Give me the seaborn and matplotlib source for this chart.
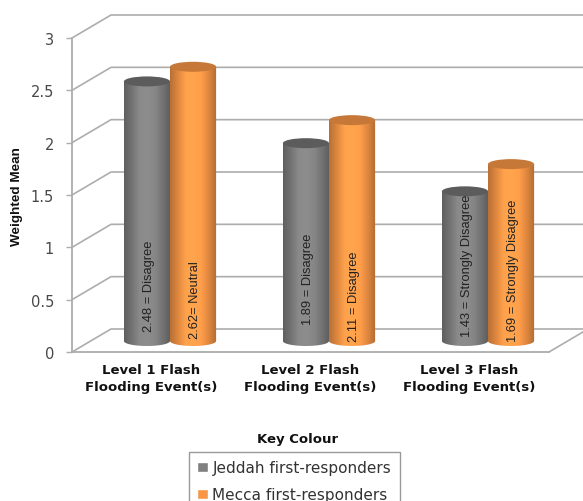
import matplotlib

matplotlib.use("Agg")
import matplotlib.pyplot as plt
import numpy as np
import pandas as pd
import seaborn as sns
from matplotlib.colors import LinearSegmentedColormap, to_rgb
from matplotlib.patches import Ellipse, PathPatch
from matplotlib.path import Path

levels = ["Level 1 Flash\nFlooding Event(s)", "Level 2 Flash\nFlooding Event(s)", "Level 3 Flash\nFlooding Event(s)"]
groups = ["Jeddah first-responders", "Mecca first-responders"]
jeddah = [2.48, 1.89, 1.43]
mecca = [2.62, 2.11, 1.69]
jeddah_labels = ["2.48 = Disagree", "1.89 = Disagree", "1.43 = Strongly Disagree"]
mecca_labels = ["2.62= Neutral", "2.11 = Disagree", "1.69 = Strongly Disagree"]
y_ticks = [0, 0.5, 1, 1.5, 2, 2.5, 3]
y_tick_labels = ["0", "0.5", "1", "1.5", "2", "2.5", "3"]

W, H = 583, 502
LEFT, RIGHT, TOP, FLOOR = 72, 549, 39, 353  # front plane of the fake 3d box, px
DEPTH_X, DEPTH_Y = 39, 23
PX_PER_UNIT = (FLOOR - TOP) / 3
GRID = "#adadad"
NARROW = ["Liberation Sans", "DejaVu Sans"]

sns.set_theme(style="white")
plt.rcParams["font.family"] = ["DejaVu Sans"]


def box(left, top, right, bottom):
    return [left / W, 1 - bottom / H, (right - left) / W, (bottom - top) / H]


fig = plt.figure(figsize=(W / 100, H / 100), dpi=100)

# walls, ticks and category labels
ax = fig.add_axes(box(LEFT, TOP, RIGHT, FLOOR))
ax.set_xlim(-0.5, 2.5)
ax.set_ylim(0, 3)
ax.set_yticks(y_ticks, y_tick_labels, color="#484848", fontsize=10.5)
ax.set_xticks(range(3), levels, fontweight="bold", fontsize=9.5, color="#111111", linespacing=1.35)
ax.tick_params(axis="y", length=4, width=1, color=GRID, pad=9, left=True)
ax.tick_params(axis="x", length=0, pad=8)
sns.despine(ax=ax)
for side in ["left", "bottom"]:
    ax.spines[side].set_color(GRID)
    ax.spines[side].set_linewidth(1.3)

dx = DEPTH_X / ((RIGHT - LEFT) / 3)
dy = DEPTH_Y / PX_PER_UNIT
for tick in y_ticks:
    ax.plot([-0.5, -0.5 + dx, 3.0], [tick, tick + dy, tick + dy], color=GRID, lw=1.2, clip_on=False)
ax.plot([2.5, 2.5 + dx], [0, dy], color=GRID, lw=1.2, clip_on=False)

fig.text(17 / W, 1 - 197 / H, "Weighted Mean", rotation=90, ha="center", va="center",
         fontsize=9.7, fontweight="bold", family=NARROW, color="#111111")

# bars live on their own axes, moved to the middle of the box depth
shift_x, shift_y = 18.5, 11
below = 0.2  # room under zero for the round base of the cylinders
ax_bars = fig.add_axes(box(LEFT + shift_x, TOP - shift_y, RIGHT + shift_x, FLOOR - shift_y + below * PX_PER_UNIT))
df = pd.DataFrame({
    "level": levels * 2,
    "group": [groups[0]] * 3 + [groups[1]] * 3,
    "value": jeddah + mecca,
})
sns.barplot(
    data=df, x="level", y="value", hue="group", hue_order=groups,
    palette=["#808080", "#f79646"], width=0.58, gap=0, saturation=1, ax=ax_bars,
)

handles, labels = ax_bars.get_legend_handles_labels()
ax_bars.legend(
    handles, labels, loc="upper left", bbox_to_anchor=(189 / W, 1 - 453 / H),
    bbox_transform=fig.transFigure, borderaxespad=0, frameon=True, fancybox=False,
    edgecolor="#9a9a9a", framealpha=1, fontsize=11, handlelength=0.68, handleheight=0.68,
    handletextpad=0.3, labelspacing=0.78, borderpad=0.55, labelcolor="#333333",
)


def shade(color, stops):
    base = np.array(to_rgb(color))
    return LinearSegmentedColormap.from_list("cyl", [tuple(np.minimum(base * s, 1)) for s in stops])


cap_h = 10 / PX_PER_UNIT
gradient = np.linspace(0, 1, 64)[None, :]
text_offset = [[0.095, 0.16, 0.05], [0.03, 0.0, 0.0]]
text_labels = [jeddah_labels, mecca_labels]
cap_tone = [0.72, 0.8]
for i, container in enumerate(ax_bars.containers):
    for j, bar in enumerate(container):
        x0, w, h = bar.get_x(), bar.get_width(), bar.get_height()
        color = bar.get_facecolor()
        t = np.linspace(np.pi, 2 * np.pi, 30)
        bottom_arc = np.column_stack([x0 + w / 2 + w / 2 * np.cos(t), cap_h / 2 * np.sin(t)])
        outline = np.vstack([[[x0, h]], bottom_arc, [[x0 + w, h]], [[x0, h]]])
        clip = PathPatch(Path(outline), transform=ax_bars.transData, fc="none", ec="none")
        ax_bars.add_patch(clip)
        im = ax_bars.imshow(
            gradient, extent=[x0, x0 + w, -cap_h, h], aspect="auto", zorder=3,
            cmap=shade(color, [0.75, 0.9, 1.08, 1.1, 1.05, 0.9, 0.72]), interpolation="bilinear",
        )
        im.set_clip_path(clip)
        bar.set_visible(False)
        ax_bars.add_patch(Ellipse((x0 + w / 2, h), w, cap_h, color=tuple(np.array(to_rgb(color)) * cap_tone[i]), zorder=4, lw=0))
        ax_bars.text(x0 + w / 2 + 0.012, text_offset[i][j], text_labels[i][j], rotation=90, ha="center", va="bottom",
                     fontsize=9.3, family=NARROW, color="#222222", zorder=5)

ax_bars.set_xlim(-0.5, 2.5)
ax_bars.set_ylim(-below, 3)
ax_bars.axis("off")

fig.text(297.5 / W, 1 - 440 / H, "Key Colour", ha="center", va="center", fontsize=9.5, fontweight="bold", color="#111111")

fig.savefig("out.png", dpi=100)
